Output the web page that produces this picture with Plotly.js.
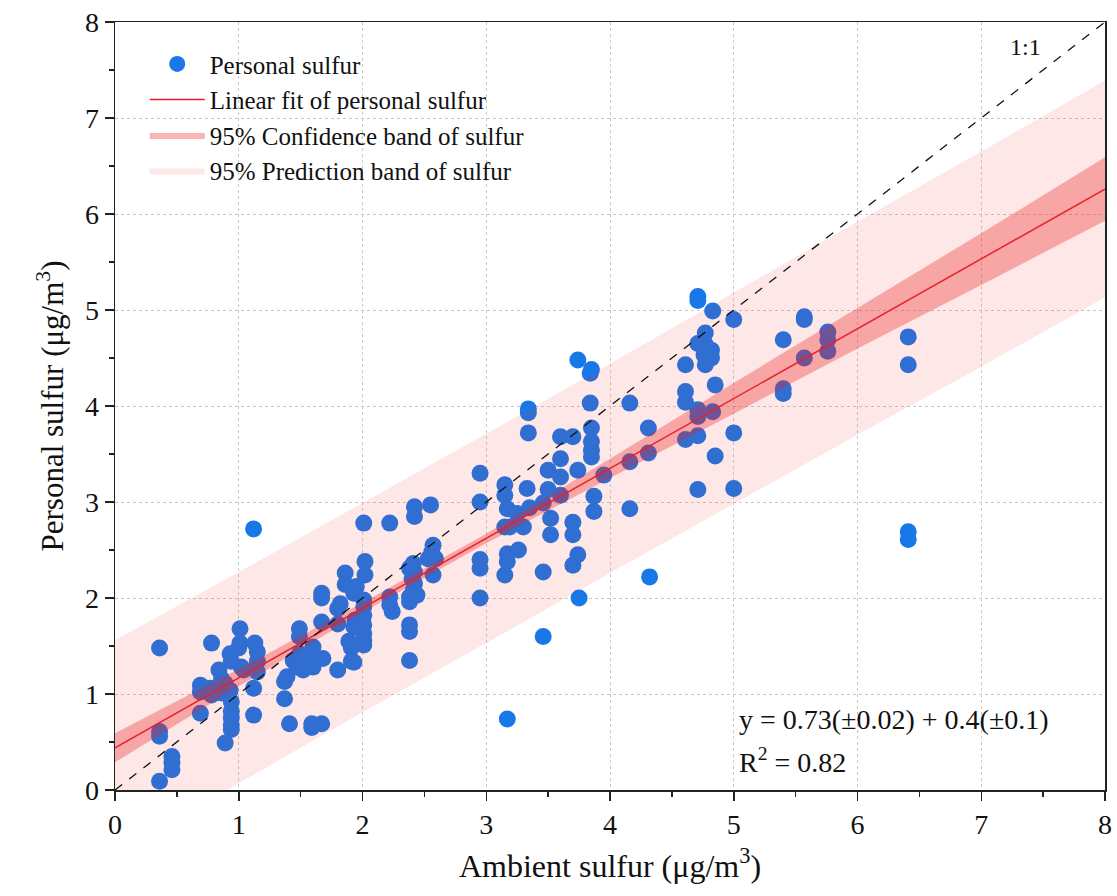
<!DOCTYPE html>
<html>
<head>
<meta charset="utf-8">
<script src="https://cdn.plot.ly/plotly-3.0.1.min.js"></script>
<style>
  html, body { margin: 0; padding: 0; background: #fff; }
  #chart { width: 1117px; height: 896px; }
</style>
</head>
<body>
<div id="chart"></div>
<script>
// ---- Data ----
const ambientX = [
  0.36,0.36,0.36,0.36,0.46,0.46,0.46,0.69,0.69,0.69,0.77,0.78,0.78,0.84,0.86,0.89,0.86,0.93,0.94,0.94,
  0.94,0.94,0.94,0.89,0.93,0.94,1.01,1.01,1.00,1.02,1.04,1.13,1.15,1.15,1.15,1.12,1.12,1.12,
  1.37,1.37,1.41,1.39,1.44,1.47,1.49,1.49,1.49,1.52,1.60,1.60,1.59,1.68,1.59,1.59,1.67,1.67,1.67,1.67,
  1.80,1.82,1.80,1.80,1.86,1.86,1.95,1.93,1.89,1.91,1.91,1.93,1.94,1.93,2.01,2.01,2.01,2.01,2.01,2.01,2.01,
  2.02,2.02,2.01,
  2.22,2.22,2.22,2.24,2.38,2.38,2.38,2.38,2.38,2.42,2.42,2.55,2.57,2.56,2.53,2.59,2.41,2.38,2.42,2.40,
  2.57,2.42,2.41,2.44,2.95,2.95,2.95,2.95,2.95,
  3.15,3.15,3.17,3.15,3.17,3.17,3.15,3.17,3.26,3.25,3.35,3.30,3.19,3.33,3.34,3.34,3.34,3.46,3.46,3.46,
  3.50,3.50,3.52,3.52,3.60,3.60,3.60,3.60,3.70,3.70,3.70,3.70,3.74,3.74,3.75,3.74,3.84,3.85,3.84,3.85,
  3.85,3.85,3.85,3.87,3.87,3.95,
  4.16,4.16,4.16,4.31,4.31,4.32,4.61,4.61,4.61,4.61,4.71,4.71,4.83,5.00,4.77,4.71,4.77,4.82,4.76,4.82,
  4.77,4.85,4.71,4.71,4.83,4.71,4.85,4.71,5.00,5.00,
  5.40,5.40,5.40,5.57,5.57,5.57,5.76,5.76,5.76,6.41,6.41,6.41,6.41
];
const personalY = [
  1.48,0.61,0.56,0.09,0.35,0.28,0.21,1.09,1.02,0.80,1.06,0.99,1.53,1.25,1.16,1.11,1.01,1.04,0.92,0.82,
  0.75,0.68,0.63,0.49,1.42,1.34,1.68,1.53,1.48,1.28,1.25,1.53,1.44,1.34,1.23,1.06,0.78,2.72,
  1.13,0.95,0.69,1.18,1.35,1.28,1.42,1.60,1.68,1.25,1.28,1.49,1.35,1.37,0.65,0.69,0.69,2.05,2.00,1.75,
  1.73,1.94,1.89,1.25,2.26,2.14,2.12,2.05,1.55,1.48,1.34,1.33,1.77,1.70,1.98,1.91,1.82,1.72,1.63,1.56,1.51,
  2.38,2.24,2.78,
  2.78,2.01,1.93,1.86,2.01,1.96,1.72,1.65,1.35,2.95,2.85,2.97,2.55,2.48,2.41,2.41,2.36,2.31,2.27,2.20,
  2.24,2.15,2.08,2.03,3.30,3.00,2.40,2.31,2.00,
  3.18,3.07,2.93,2.74,2.46,2.38,2.24,0.74,2.50,2.88,2.94,2.74,2.74,3.14,3.97,3.93,3.72,2.99,2.27,1.60,
  3.33,3.13,2.83,2.66,3.68,3.45,3.26,3.07,3.68,2.79,2.66,2.34,3.33,2.45,2.00,4.48,4.34,4.38,4.03,3.77,
  3.63,3.54,3.47,3.06,2.90,3.28,
  4.03,3.42,2.93,3.77,3.51,2.22,4.43,4.15,4.04,3.65,5.14,5.10,4.99,4.90,4.76,4.65,4.64,4.58,4.53,4.50,
  4.43,4.22,3.96,3.89,3.94,3.69,3.48,3.13,3.72,3.14,
  4.69,4.18,4.13,4.93,4.90,4.50,4.77,4.69,4.57,4.72,4.43,2.69,2.61
];

// fitted line end points
const fitX = [0, 8];
const fitY = [0.44, 6.26];

// band edges read at x = 0..8
const bandX   = [0, 1, 2, 3, 4, 5, 6, 7, 8];
const ciUpper = [0.59, 1.26, 1.95, 2.67, 3.45, 4.24, 5.02, 5.80, 6.59];
const ciLower = [0.29, 1.08, 1.85, 2.57, 3.25, 3.92, 4.60, 5.26, 5.93];
const piUpper = [1.56, 2.27, 2.99, 3.71, 4.44, 5.18, 5.92, 6.65, 7.39];
const piLower = [-0.68, 0.07, 0.81, 1.53, 2.26, 2.98, 3.70, 4.41, 5.13];

// 1:1 reference line
const oneX = [0, 8];
const oneY = [0, 8];

const tickVals = [0, 1, 2, 3, 4, 5, 6, 7, 8];
const tickText = ['0', '1', '2', '3', '4', '5', '6', '7', '8'];

const xTitle = 'Ambient sulfur (μg/m<sup>3</sup>)';
const yTitle = 'Personal sulfur (μg/m<sup>3</sup>)';
const names = ['Personal sulfur', 'Linear fit of personal sulfur',
               '95% Confidence band of sulfur', '95% Prediction band of sulfur'];

// ---- Build traces ----
const revX = bandX.slice().reverse();
const FONT = 'Liberation Serif, Times New Roman, serif';

const traces = [
  {
    x: ambientX, y: personalY, type: 'scatter', mode: 'markers',
    name: names[0], legendrank: 1,
    marker: { color: '#1878e8', size: 17, line: { width: 0 } }
  },
  {
    x: bandX.concat(revX), y: piUpper.concat(piLower.slice().reverse()),
    type: 'scatter', mode: 'lines', fill: 'toself',
    fillcolor: 'rgba(245,40,40,0.11)', line: { width: 0 },
    name: names[3], legendrank: 4, hoverinfo: 'skip'
  },
  {
    x: bandX.concat(revX), y: ciUpper.concat(ciLower.slice().reverse()),
    type: 'scatter', mode: 'lines', fill: 'toself',
    fillcolor: 'rgba(238,30,30,0.33)', line: { width: 0 },
    name: names[2], legendrank: 3, hoverinfo: 'skip'
  },
  {
    x: fitX, y: fitY, type: 'scatter', mode: 'lines',
    line: { color: '#e8202a', width: 1.5 },
    name: names[1], legendrank: 2
  },
  {
    x: oneX, y: oneY, type: 'scatter', mode: 'lines',
    line: { color: '#111', width: 1.3, dash: 'dash' },
    showlegend: false
  }
];

const axisCommon = {
  range: [0, 8], tickvals: tickVals, ticktext: tickText,
  showline: true, linecolor: '#222', linewidth: 1.5, mirror: true,
  ticks: 'outside', ticklen: 9, tickwidth: 1.5, tickcolor: '#222',
  minor: { ticks: 'outside', dtick: 0.5, ticklen: 5, tickwidth: 1.3, tickcolor: '#222', showgrid: false },
  showgrid: true, gridcolor: '#c9c9c9', griddash: 'dot', gridwidth: 1,
  zeroline: false, tickfont: { family: FONT, size: 28, color: '#111' }
};

const layout = {
  width: 1117, height: 896,
  margin: { l: 115, r: 12, t: 22, b: 106 },
  paper_bgcolor: '#fff', plot_bgcolor: '#fff',
  font: { family: FONT, color: '#111' },
  xaxis: Object.assign({}, axisCommon, {
    title: { text: xTitle, font: { family: FONT, size: 32, color: '#111' }, standoff: 15 }
  }),
  yaxis: Object.assign({}, axisCommon, {
    title: { text: yTitle, font: { family: FONT, size: 31, color: '#111' }, standoff: 12 }
  }),
  legend: {
    x: 0.03, y: 0.975, xanchor: 'left', yanchor: 'top',
    bgcolor: 'rgba(0,0,0,0)', borderwidth: 0,
    font: { family: FONT, size: 25, color: '#111' },
    itemwidth: 55, tracegroupgap: 0
  },
  annotations: [
    { x: 5.03, y: 0.73, xref: 'x', yref: 'y', xanchor: 'left', yanchor: 'middle',
      text: 'y = 0.73(±0.02) + 0.4(±0.1)', showarrow: false,
      font: { family: FONT, size: 28, color: '#111' } },
    { x: 5.03, y: 0.31, xref: 'x', yref: 'y', xanchor: 'left', yanchor: 'middle',
      text: 'R<sup>2</sup> = 0.82', showarrow: false,
      font: { family: FONT, size: 28, color: '#111' } },
    { x: 7.36, y: 7.74, xref: 'x', yref: 'y', xanchor: 'center', yanchor: 'middle',
      text: '1:1', showarrow: false,
      font: { family: FONT, size: 24, color: '#111' } }
  ],
  showlegend: true
};

Plotly.newPlot('chart', traces, layout, { staticPlot: true, displayModeBar: false });
</script>
</body>
</html>
